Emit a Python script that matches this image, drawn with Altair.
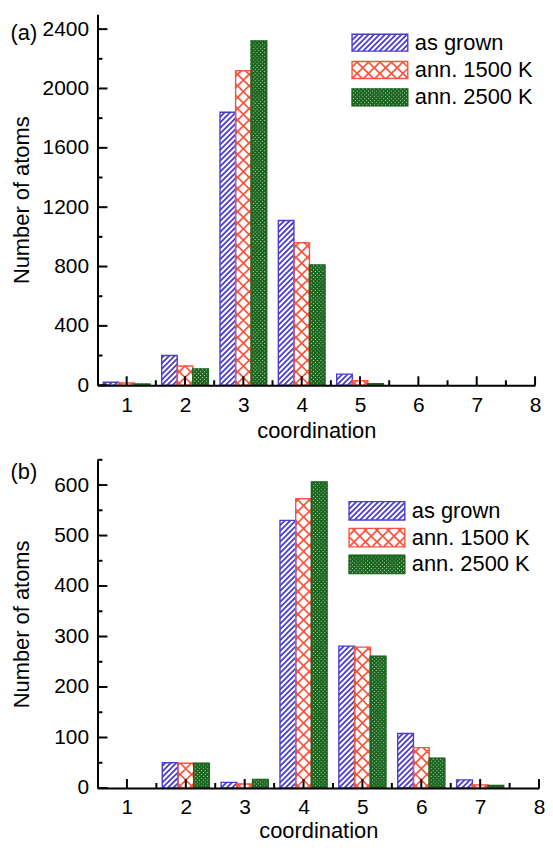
import math
import altair as alt
import pandas as pd

# ---------------- data ----------------
coordination = [1, 2, 3, 4, 5, 6, 7, 8]
series_names = ["as grown", "ann. 1500 K", "ann. 2500 K"]

a_as_grown = [20, 200, 1840, 1110, 75, 0, 0, 0]
a_ann1500 = [15, 130, 2120, 960, 30, 0, 0, 0]
a_ann2500 = [8, 110, 2320, 810, 10, 0, 0, 0]

b_as_grown = [0, 50, 11, 530, 281, 108, 16, 0]
b_ann1500 = [0, 49, 8, 573, 279, 80, 6, 0]
b_ann2500 = [0, 49, 17, 606, 261, 59, 5, 0]

x_major = [1, 2, 3, 4, 5, 6, 7, 8]
x_minor = [1.5, 2.5, 3.5, 4.5, 5.5, 6.5, 7.5]
a_major = [0, 400, 800, 1200, 1600, 2000, 2400]
a_minor = [200, 600, 1000, 1400, 1800, 2200]
b_major = [0, 100, 200, 300, 400, 500, 600]
b_minor = [50, 150, 250, 350, 450, 550, 650]

colors = ["#4a3ccf", "#f5553f", "#1c6620"]
# hatch style per series: (period px, directions, line width)
hatch_style = [(5.5, ["/"], 1.8), (11.5, ["/", "\\"], 1.7), (3.8, ["/", "\\"], 1.9)]

FONT = "Liberation Sans"
FS = 22
LFS = 21
YFS = 22
BW = 0.2667  # bar width in x units


def hatch_segments(X0, X1, Y0, Y1, p, dirs):
    segs = []
    w = X1 - X0
    for d in dirs:
        if d == "/":
            a = Y0 - X0
            kmin, kmax = Y0 - X1, Y1 - X0
            for n in range(math.floor((kmin - a) / p) - 1, math.ceil((kmax - a) / p) + 2):
                k = a + n * p
                xa = max(X0, Y0 - k)
                xb = min(X1, Y1 - k)
                if xb - xa > 0.05:
                    segs.append((xa, xa + k, xb, xb + k))
        else:
            b = X0 + Y0 + w
            kmin, kmax = X0 + Y0, X1 + Y1
            for n in range(math.floor((kmin - b) / p) - 1, math.ceil((kmax - b) / p) + 2):
                k = b + n * p
                xa = max(X0, k - Y1)
                xb = min(X1, k - Y0)
                if xb - xa > 0.05:
                    segs.append((xa, k - xa, xb, k - xb))
    return segs


def panel(vals, ymax, width, height, major, minor, tag, tag_dy, leg_x, leg_tops, leg_h,
          leg_text_x, xtitle_y):
    sx = width / 7.5
    sy = height / ymax
    xs = alt.Scale(domain=[0.5, 8], nice=False, zero=False)
    ys = alt.Scale(domain=[0, ymax], nice=False, zero=True)

    def to_data(X, Y):
        return 0.5 + X / sx, Y / sy

    bars = []
    hatch = {s: [] for s in series_names}

    def add_rect(s, j, X0, X1, Y0, Y1):
        x0, y0 = to_data(X0, Y0)
        x1, y1 = to_data(X1, Y1)
        bars.append(dict(series=s, x=x0, x2=x1, y=y0, y2=y1))
        p, dirs, _ = hatch_style[j]
        for (ax, ay, bx, by) in hatch_segments(X0, X1, Y0, Y1, p, dirs):
            dx0, dy0 = to_data(ax, ay)
            dx1, dy1 = to_data(bx, by)
            hatch[s].append(dict(x=dx0, y=dy0, x2=dx1, y2=dy1))

    for j, s in enumerate(series_names):
        for c, v in zip(coordination, vals[j]):
            if v <= 0:
                continue
            xl = c - 0.4 + j * BW
            add_rect(s, j, (xl - 0.5) * sx, (xl + BW - 0.5) * sx, 0, v * sy)

    # legend swatches (pixel layout -> data coordinates)
    leg_text = []
    for j, s in enumerate(series_names):
        top = leg_tops[j]
        Y1 = height - top
        Y0 = height - top - leg_h
        add_rect(s, j, leg_x, leg_x + 56, Y0, Y1)
        tx, ty = to_data(leg_text_x, (Y0 + Y1) / 2)
        leg_text.append(dict(label=s, x=tx, y=ty))

    df_bars = pd.DataFrame(bars)
    cscale = alt.Scale(domain=series_names, range=colors)

    xaxis = alt.Axis(values=x_major, format="d", title="coordination", titleY=xtitle_y,
                     titleBaseline="middle", ticks=False, grid=False, labelFlush=False,
                     labelPadding=9, domainWidth=2, domainColor="black", zindex=1,
                     labelFontSize=LFS, titleFontSize=FS, labelFont=FONT, titleFont=FONT,
                     titleFontWeight="normal", labelColor="black", titleColor="black")
    yaxis = alt.Axis(values=major, format="d", title="Number of atoms", titleX=-76,
                     titleY=height / 2, titleBaseline="middle", ticks=False, grid=False,
                     labelFlush=False, labelPadding=9, domainWidth=2, domainColor="black",
                     zindex=1, labelFontSize=LFS, titleFontSize=YFS, labelFont=FONT,
                     titleFont=FONT, titleFontWeight="normal", labelColor="black",
                     titleColor="black")

    def X(field):
        return alt.X(field, scale=xs, axis=xaxis)

    def Y(field):
        return alt.Y(field, scale=ys, axis=yaxis)

    fill_layer = alt.Chart(df_bars).mark_rect(fill="white", strokeWidth=0).encode(
        x=X("x:Q"), x2="x2:Q", y=Y("y:Q"), y2="y2:Q")

    layers = [fill_layer]
    for j, s in enumerate(series_names):
        if not hatch[s]:
            continue
        layers.append(alt.Chart(pd.DataFrame(hatch[s])).mark_rule(
            color=colors[j], strokeWidth=hatch_style[j][2]).encode(
            x=X("x:Q"), x2="x2:Q", y=Y("y:Q"), y2="y2:Q"))

    layers.append(alt.Chart(df_bars).mark_rect(fillOpacity=0, strokeWidth=1.4).encode(
        x=X("x:Q"), x2="x2:Q", y=Y("y:Q"), y2="y2:Q",
        stroke=alt.Stroke("series:N", scale=cscale, legend=None)))

    # inward ticks
    layers.append(alt.Chart(pd.DataFrame({"y": major})).mark_rule(color="black", strokeWidth=2).encode(
        y=Y("y:Q"), x=alt.value(0), x2=alt.value(10)))
    layers.append(alt.Chart(pd.DataFrame({"y": minor})).mark_rule(color="black", strokeWidth=2).encode(
        y=Y("y:Q"), x=alt.value(0), x2=alt.value(5)))
    layers.append(alt.Chart(pd.DataFrame({"x": x_major})).mark_rule(color="black", strokeWidth=2).encode(
        x=X("x:Q"), y=alt.value(height), y2=alt.value(height - 9)))
    layers.append(alt.Chart(pd.DataFrame({"x": x_minor})).mark_rule(color="black", strokeWidth=2).encode(
        x=X("x:Q"), y=alt.value(height), y2=alt.value(height - 5)))

    layers.append(alt.Chart(pd.DataFrame(leg_text)).mark_text(
        align="left", baseline="middle", fontSize=FS, font=FONT, color="black").encode(
        x=X("x:Q"), y=Y("y:Q"), text="label:N"))

    layers.append(alt.Chart(pd.DataFrame({"t": [tag]})).mark_text(
        align="center", baseline="middle", fontSize=FS, font=FONT, color="black").encode(
        text="t:N", x=alt.value(-74), y=alt.value(tag_dy)))

    return alt.layer(*layers).properties(width=width, height=height)


top = panel([a_as_grown, a_ann1500, a_ann2500], 2500, 440, 373, a_major, a_minor,
            "(a)", 19, 256, [20, 47.5, 75], 17, 319, 46)
bottom = panel([b_as_grown, b_ann1500, b_ann2500], 650, 444, 330, b_major, b_minor,
               "(b)", 12, 253, [42, 69, 96], 18.5, 316, 43)

chart = alt.vconcat(top, bottom, spacing=17).properties(
    padding={"left": 2, "top": 4, "right": 0, "bottom": 0}
).configure_view(stroke=None)

chart.save("out.html", embed_options={"renderer": "svg", "actions": False})
